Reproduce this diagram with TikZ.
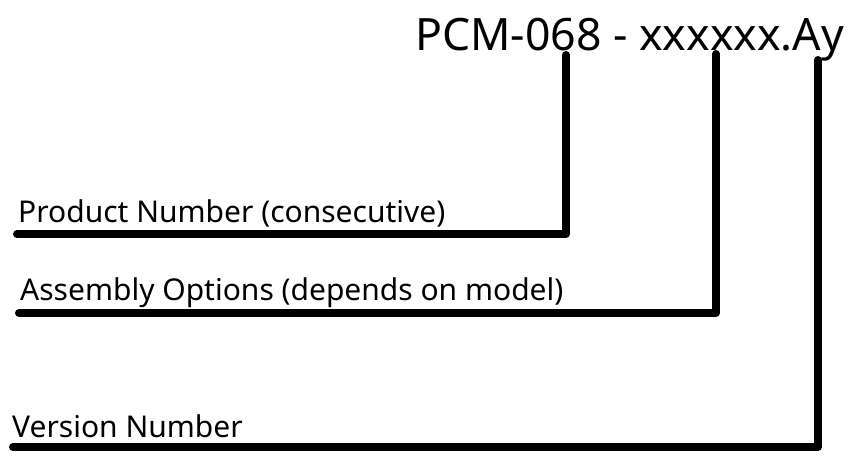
\documentclass[tikz,border=0pt]{standalone}
\usepackage{fontspec}
\setmainfont{Noto Sans}
\begin{document}
\begin{tikzpicture}[x=1pt,y=-1pt,
  lbl/.style={anchor=base west,inner sep=0pt,font=\fontsize{30}{32}\selectfont},
  title/.style={anchor=base west,inner sep=0pt,font=\fontsize{44.6}{48}\selectfont},
  lead/.style={line width=8pt,line cap=round,line join=round}]
\useasboundingbox (0,0) rectangle (860,464);
\node[title] (code) at (415,50) {PCM-068 - xxxxxx.Ay};
\node[lbl] (prod) at (18,222) {Product Number (consecutive)};
\node[lbl] (asm) at (20,300) {Assembly Options (depends on model)};
\node[lbl] (ver) at (12,437) {Version Number};
\coordinate (p0) at (17,234); \coordinate (p1) at (566,234); \coordinate (p2) at (566,55);
\coordinate (a0) at (19,313); \coordinate (a1) at (716,313); \coordinate (a2) at (716,54);
\coordinate (v0) at (13,447); \coordinate (v1) at (818,447); \coordinate (v2) at (818,60);
\draw[lead] (p0) -- (p1) -- (p2);
\draw[lead] (a0) -- (a1) -- (a2);
\draw[lead] (v0) -- (v1) -- (v2);
\end{tikzpicture}
\end{document}
